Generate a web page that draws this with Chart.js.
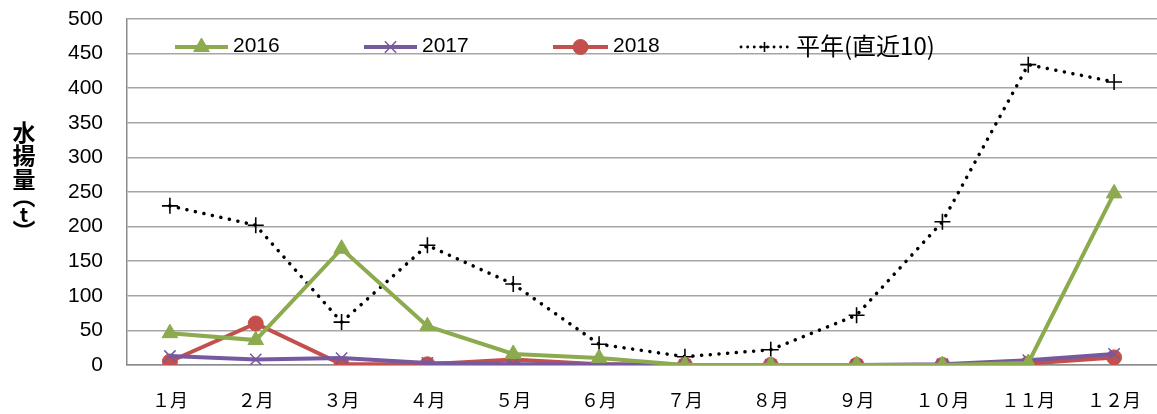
<!DOCTYPE html>
<html>
<head>
<meta charset="utf-8">
<script src="https://cdn.jsdelivr.net/npm/chart.js@4/dist/chart.umd.min.js"></script>
<style>
  html, body { margin: 0; padding: 0; background: #fff; overflow: hidden; }
  #wrap { width: 1157px; height: 414px; }
  canvas { display: block; }
</style>
</head>
<body>
<div id="wrap"><canvas id="c" width="1157" height="414"></canvas></div>
<script>
// 月別水揚量（t）
const months = ['１月', '２月', '３月', '４月', '５月', '６月', '７月', '８月', '９月', '１０月', '１１月', '１２月'];
const catch2016 = [46, 36, 168, 56, 16, 10, 0, 0, 0, 0, 3, 248];
const catch2017 = [13, 8, 10, 3, 1, 1, 0, 0, 0, 1, 7, 16];
const catch2018 = [5, 60, 1, 1, 8, 1, 0, 0, 0, 0, 2, 11];
const catchAvg = [230, 202, 62, 173, 117, 30, 12, 22, 72, 207, 434, 409];
const seriesNames = ['2016', '2017', '2018', '平年(直近10)'];
const yTitle = ['水', '揚', '量', '︵', 't', '︶'];
const yMin = 0, yMax = 500, yStep = 50;

const GREEN = '#8CAA4E', PURPLE = '#76599F', RED = '#C4504E', BLACK = '#000';

// y-axis title drawn as stacked vertical characters
const yTitlePlugin = {
  id: 'yTitle',
  afterDraw(chart) {
    const ctx = chart.ctx;
    ctx.save();
    ctx.fillStyle = '#000';
    ctx.textAlign = 'center';
    ctx.textBaseline = 'middle';
    const ys = [132, 155, 179, 196, 214, 231];
    yTitle.forEach((ch, i) => {
      ctx.font = (ch === 't' ? 'bold 20px ' : 'bold 23px ') + '"Noto Sans CJK JP"';
      ctx.fillText(ch, 24, ys[i]);
    });
    ctx.restore();
  }
};

// legend inside the plot area, along the top
const legendPlugin = {
  id: 'innerLegend',
  afterDatasetsDraw(chart) {
    const ctx = chart.ctx;
    const a = chart.chartArea;
    const y = a.top + 28;
    const starts = [175, 364, 553, 741];
    const lens = [53, 53, 55, 47];
    ctx.save();
    chart.data.datasets.forEach((ds, i) => {
      const x0 = starts[i];
      const x1 = x0 + lens[i];
      const dotted = !!ds.borderDash;
      ctx.strokeStyle = ds.borderColor;
      ctx.lineWidth = dotted ? 2.8 : ds.borderWidth;
      ctx.setLineDash(dotted ? [0.1, 6.5] : []);
      ctx.lineCap = ds.borderCapStyle || 'butt';
      ctx.beginPath();
      ctx.moveTo(x0, y);
      ctx.lineTo(x1, y);
      ctx.stroke();
      ctx.setLineDash([]);
      ctx.lineCap = 'butt';
      ctx.fillStyle = ds.backgroundColor;
      ctx.strokeStyle = ds.borderColor;
      ctx.lineWidth = ds.pointBorderWidth;
      Chart.helpers.drawPoint(ctx, {
        pointStyle: ds.pointStyle,
        radius: dotted ? 5 : ds.pointRadius,
        borderWidth: ds.pointBorderWidth
      }, (x0 + x1) / 2, y);
      ctx.fillStyle = '#000';
      ctx.textAlign = 'left';
      ctx.textBaseline = 'middle';
      ctx.font = dotted ? '24px "Noto Sans CJK JP"' : '21px "Liberation Sans Narrow", "Liberation Sans"';
      ctx.fillText(ds.label, x1 + (dotted ? 8 : 5), y - 1);
    });
    ctx.restore();
  }
};

const datasets = [
  { label: seriesNames[0], data: catch2016, borderColor: GREEN, backgroundColor: GREEN,
    borderWidth: 4, pointStyle: 'triangle', pointRadius: 9, pointBorderWidth: 1 },
  { label: seriesNames[1], data: catch2017, borderColor: PURPLE, backgroundColor: PURPLE,
    borderWidth: 4, pointStyle: 'crossRot', pointRadius: 8, pointBorderWidth: 1.5 },
  { label: seriesNames[2], data: catch2018, borderColor: RED, backgroundColor: RED,
    borderWidth: 4, pointStyle: 'circle', pointRadius: 7.5, pointBorderWidth: 1 },
  { label: seriesNames[3], data: catchAvg, borderColor: BLACK, backgroundColor: BLACK,
    borderWidth: 3.5, borderDash: [0.1, 8.6], borderCapStyle: 'round',
    pointStyle: 'cross', pointRadius: 8, pointBorderWidth: 1.6 }
];

new Chart(document.getElementById('c'), {
  type: 'line',
  data: { labels: months, datasets },
  options: {
    responsive: false,
    animation: false,
    devicePixelRatio: 1,
    layout: { autoPadding: false, padding: { top: 19, right: -4, left: 0, bottom: 0 } },
    elements: { line: { tension: 0 } },
    plugins: {
      legend: { display: false },
      tooltip: { enabled: false }
    },
    scales: {
      x: {
        offset: true,
        grid: { display: false, drawTicks: false },
        border: { display: true, color: '#8c8c8c', width: 1.5 },
        ticks: { color: '#000', padding: 24, maxRotation: 0, autoSkip: false,
                 font: { family: '"Noto Sans CJK JP"', size: 18 } },
        afterFit(s) { s.height = 49; s.paddingLeft = 0; s.paddingRight = 0; }
      },
      y: {
        min: yMin, max: yMax,
        ticks: { stepSize: yStep, color: '#000', padding: 24,
                 font: { family: '"Liberation Sans"', size: 21 } },
        grid: { color: '#a6a6a6', lineWidth: 1.5, drawTicks: false },
        border: { display: true, color: '#8c8c8c', width: 1.5 },
        afterFit(s) { s.width = 127; s.paddingTop = 0; s.paddingBottom = 0; }
      }
    }
  },
  plugins: [yTitlePlugin, legendPlugin]
});
</script>
</body>
</html>
